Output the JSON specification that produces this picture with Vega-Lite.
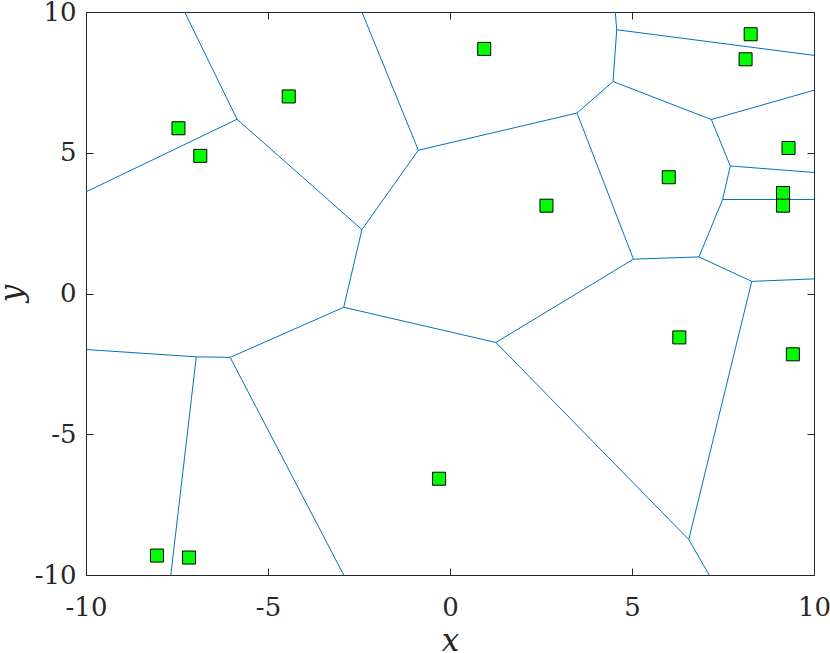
{
  "$schema": "https://vega.github.io/schema/vega-lite/v6.json",
  "autosize": "none",
  "width": 728,
  "height": 563,
  "padding": {"left": 86, "top": 12, "right": 16, "bottom": 78},
  "background": "white",
  "config": {
    "font": "DejaVu Serif",
    "view": {"stroke": null},
    "axis": {
      "labelFont": "DejaVu Serif",
      "labelFontSize": 26,
      "labelColor": "#262626",
      "titleFont": "DejaVu Serif",
      "titleFontStyle": "italic",
      "titleFontWeight": "normal",
      "titleFontSize": 31,
      "titleColor": "#262626",
      "domainColor": "#262626",
      "domainWidth": 1,
      "tickColor": "#262626",
      "tickWidth": 1,
      "tickSize": -7,
      "grid": false
    }
  },
  "datasets": {
    "edges": [
      {"x1": -7.29, "y1": 10, "x2": -5.85, "y2": 6.19},
      {"x1": -10, "y1": 3.61, "x2": -5.85, "y2": 6.19},
      {"x1": -5.85, "y1": 6.19, "x2": -2.42, "y2": 2.27},
      {"x1": -2.42, "y1": 2.27, "x2": -0.87, "y2": 5.09},
      {"x1": -0.87, "y1": 5.09, "x2": -2.42, "y2": 10},
      {"x1": -2.42, "y1": 2.27, "x2": -2.92, "y2": -0.49},
      {"x1": -0.87, "y1": 5.09, "x2": 3.49, "y2": 6.41},
      {"x1": 3.49, "y1": 6.41, "x2": 4.48, "y2": 7.53},
      {"x1": 4.48, "y1": 7.53, "x2": 4.58, "y2": 9.37},
      {"x1": 4.58, "y1": 9.37, "x2": 4.54, "y2": 10},
      {"x1": 4.58, "y1": 9.37, "x2": 10, "y2": 8.46},
      {"x1": 4.48, "y1": 7.53, "x2": 7.18, "y2": 6.18},
      {"x1": 7.18, "y1": 6.18, "x2": 10, "y2": 7.22},
      {"x1": 7.18, "y1": 6.18, "x2": 7.70, "y2": 4.53},
      {"x1": 7.70, "y1": 4.53, "x2": 10, "y2": 4.30},
      {"x1": 7.70, "y1": 4.53, "x2": 7.49, "y2": 3.34},
      {"x1": 7.49, "y1": 3.34, "x2": 10, "y2": 3.34},
      {"x1": 7.49, "y1": 3.34, "x2": 6.84, "y2": 1.30},
      {"x1": 3.49, "y1": 6.41, "x2": 5.04, "y2": 1.22},
      {"x1": 5.04, "y1": 1.22, "x2": 6.84, "y2": 1.30},
      {"x1": 6.84, "y1": 1.30, "x2": 8.29, "y2": 0.43},
      {"x1": 8.29, "y1": 0.43, "x2": 10, "y2": 0.52},
      {"x1": 8.29, "y1": 0.43, "x2": 6.56, "y2": -8.74},
      {"x1": 6.56, "y1": -8.74, "x2": 7.12, "y2": -10},
      {"x1": 1.26, "y1": -1.74, "x2": 6.56, "y2": -8.74},
      {"x1": 1.26, "y1": -1.74, "x2": 5.04, "y2": 1.22},
      {"x1": -2.92, "y1": -0.49, "x2": 1.26, "y2": -1.74},
      {"x1": -2.92, "y1": -0.49, "x2": -6.04, "y2": -2.27},
      {"x1": -6.04, "y1": -2.27, "x2": -6.97, "y2": -2.25},
      {"x1": -6.97, "y1": -2.25, "x2": -10, "y2": -1.99},
      {"x1": -6.97, "y1": -2.25, "x2": -7.67, "y2": -10},
      {"x1": -6.04, "y1": -2.27, "x2": -2.92, "y2": -10}
    ],
    "points": [
      {"x": -7.46, "y": 5.87},
      {"x": -6.86, "y": 4.89},
      {"x": -4.43, "y": 7.0},
      {"x": 0.94, "y": 8.69},
      {"x": 8.26, "y": 9.21},
      {"x": 8.12, "y": 8.32},
      {"x": 9.30, "y": 5.17},
      {"x": 6.01, "y": 4.13},
      {"x": 2.65, "y": 3.12},
      {"x": 9.15, "y": 3.57},
      {"x": 9.15, "y": 3.12},
      {"x": 6.30, "y": -1.56},
      {"x": 9.42, "y": -2.16},
      {"x": -0.30, "y": -6.58},
      {"x": -8.05, "y": -9.31},
      {"x": -7.17, "y": -9.38}
    ]
  },
  "layer": [
    {
      "data": {"name": "edges"},
      "mark": {"type": "rule", "color": "#0072BD", "strokeWidth": 1},
      "encoding": {
        "x": {
          "field": "x1", "type": "quantitative",
          "scale": {"domain": [-10, 10], "nice": false, "zero": false},
          "axis": {
            "orient": "bottom", "title": "x", "values": [-10, -5, 0, 5, 10],
            "labelExpr": "toString(datum.value)",
            "labelBaseline": "alphabetic", "labelPadding": 47, "labelFlush": false,
            "titleY": 75, "titleBaseline": "alphabetic"
          }
        },
        "x2": {"field": "x2"},
        "y": {
          "field": "y1", "type": "quantitative",
          "scale": {"domain": [-10, 10], "nice": false, "zero": false},
          "axis": {
            "orient": "left", "title": "y", "values": [-10, -5, 0, 5, 10],
            "labelExpr": "toString(datum.value)",
            "labelPadding": 17, "labelFlush": false,
            "titleX": -74, "titleY": 281, "titleAngle": -90,
            "titleAlign": "center", "titleBaseline": "middle"
          }
        },
        "y2": {"field": "y2"}
      }
    },
    {
      "data": {"name": "points"},
      "mark": {"type": "point", "shape": "square", "filled": true, "fill": "#00FF00", "stroke": "#000000", "strokeWidth": 1, "size": 169, "opacity": 1},
      "encoding": {
        "x": {
          "field": "x", "type": "quantitative",
          "axis": {"orient": "top", "title": null, "labels": false, "values": [-10, -5, 0, 5, 10]}
        },
        "y": {
          "field": "y", "type": "quantitative",
          "axis": {"orient": "right", "title": null, "labels": false, "values": [-10, -5, 0, 5, 10]}
        }
      }
    }
  ]
}
